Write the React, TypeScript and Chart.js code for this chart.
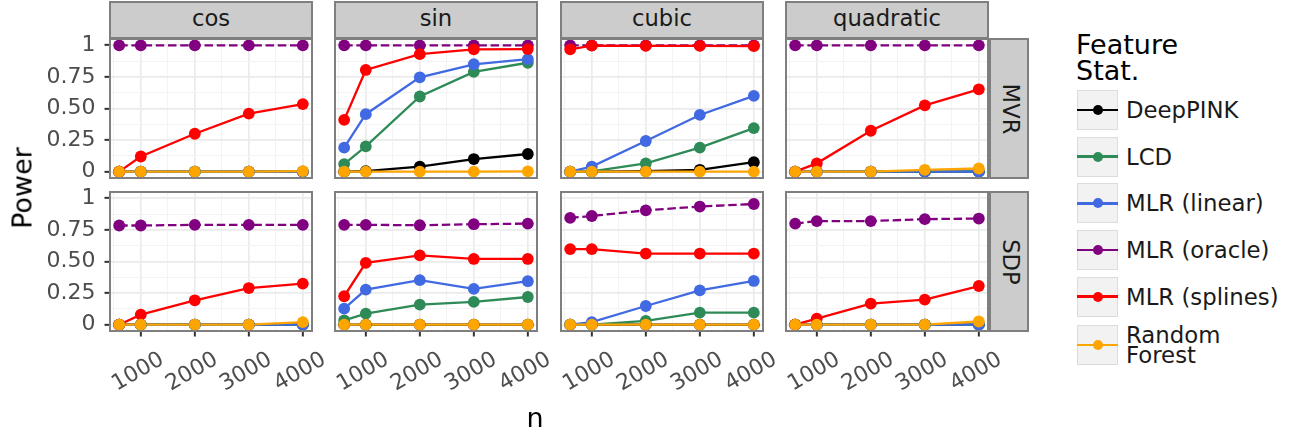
import React, { useEffect, useRef } from 'react';
import { Chart, registerables } from 'chart.js';

Chart.register(...registerables);

// ---------------- data ----------------
const nValues = [600, 1000, 2000, 3000, 4000];
const functionTypes = ['cos', 'sin', 'cubic', 'quadratic'];
const methods = ['MVR', 'SDP'];
const featureStats = ['DeepPINK', 'LCD', 'MLR (linear)', 'MLR (oracle)', 'MLR (splines)', 'Random Forest'];
const legendLines = [['DeepPINK'], ['LCD'], ['MLR (linear)'], ['MLR (oracle)'], ['MLR (splines)'], ['Random', 'Forest']];
const statColors = ['#000000', '#2E8B57', '#4169E1', '#800080', '#FF0000', '#FFA500'];
const xTickValues = [1000, 2000, 3000, 4000];
const xMinorBreaks = [500, 1500, 2500, 3500];
const yTickValues = [0, 0.25, 0.5, 0.75, 1];
const yTickLabels = ['0', '0.25', '0.50', '0.75', '1'];
const yMinorBreaks = [0.125, 0.375, 0.625, 0.875];

// each array: rows = cos, sin, cubic, quadratic ; columns = n
const deepPinkMVR = [
  [0, 0, 0, 0, 0],
  [0, 0.005, 0.04, 0.1, 0.14],
  [0, 0, 0.005, 0.015, 0.075],
  [0, 0, 0, 0, 0],
];
const lcdMVR = [
  [0, 0, 0, 0, 0],
  [0.06, 0.2, 0.595, 0.79, 0.862],
  [0, 0.003, 0.066, 0.19, 0.345],
  [0, 0, 0, 0, 0],
];
const linearMVR = [
  [0, 0, 0, 0, 0],
  [0.19, 0.455, 0.747, 0.85, 0.89],
  [0, 0.04, 0.243, 0.449, 0.6],
  [0, 0, 0, 0, 0],
];
const oracleMVR = [
  [1, 1, 1, 1, 1],
  [1, 1, 1, 1, 1],
  [1, 1, 1, 1, 1],
  [1, 1, 1, 1, 1],
];
const splinesMVR = [
  [0, 0.12, 0.3, 0.46, 0.535],
  [0.41, 0.805, 0.93, 0.968, 0.97],
  [0.968, 0.998, 0.995, 0.995, 0.993],
  [0, 0.066, 0.324, 0.525, 0.652],
];
const forestMVR = [
  [0, 0, 0, 0, 0.005],
  [0, 0, 0, 0, 0.003],
  [0, 0, 0, 0, 0],
  [0, 0, 0, 0.015, 0.025],
];

const deepPinkSDP = [
  [0, 0, 0, 0, 0],
  [0, 0, 0, 0, 0],
  [0, 0, 0, 0, 0],
  [0, 0, 0, 0, 0],
];
const lcdSDP = [
  [0, 0, 0, 0, 0],
  [0.034, 0.087, 0.159, 0.18, 0.219],
  [0, 0, 0.03, 0.095, 0.095],
  [0, 0, 0, 0, 0],
];
const linearSDP = [
  [0, 0, 0, 0, 0],
  [0.127, 0.278, 0.352, 0.283, 0.344],
  [0, 0.02, 0.148, 0.272, 0.346],
  [0, 0, 0, 0, 0],
];
const oracleSDP = [
  [0.785, 0.785, 0.79, 0.79, 0.79],
  [0.79, 0.79, 0.787, 0.795, 0.8],
  [0.845, 0.86, 0.905, 0.935, 0.955],
  [0.8, 0.82, 0.82, 0.835, 0.84],
];
const splinesSDP = [
  [0, 0.079, 0.193, 0.29, 0.325],
  [0.225, 0.489, 0.548, 0.52, 0.52],
  [0.598, 0.598, 0.563, 0.563, 0.563],
  [0, 0.048, 0.167, 0.198, 0.306],
];
const forestSDP = [
  [0, 0, 0, 0, 0.02],
  [0, 0, 0, 0, 0],
  [0, 0, 0, 0, 0],
  [0, 0, 0, 0, 0.025],
];

const seriesByMethod: Record<string, number[][][]> = {
  MVR: [deepPinkMVR, lcdMVR, linearMVR, oracleMVR, splinesMVR, forestMVR],
  SDP: [deepPinkSDP, lcdSDP, linearSDP, oracleSDP, splinesSDP, forestSDP],
};

// ---------------- layout / style ----------------
const FONT = "'DejaVu Sans', sans-serif";
const COL_LEFTS = [110, 335, 561, 786];
const ROW_TOPS = [39, 192];
const PANEL_W = 202;
const PANEL_H = 139;
const PAD = { left: 10, right: 40, top: 20, bottom: 10 };
const Y_AXIS_W = 100;
const X_AXIS_H = 80;
const X_MIN = 430;
const X_MAX = 4170;
const Y_MIN = -0.05;
const Y_MAX = 1.05;
const GRID_MAJOR = '#ebebeb';
const GRID_MINOR = '#f3f3f3';
const BORDER_COLOR = '#7f7f7f';
const STRIP_FILL = '#cccccc';
const TICK_FONT_SIZE = 22;
const STRIP_FONT_SIZE = 22.7;
const LEGEND_FONT_SIZE = 22.8;

const panelBorder = {
  id: 'panelBorder',
  afterDraw(chart: any) {
    const { ctx, chartArea: a } = chart;
    ctx.save();
    ctx.strokeStyle = BORDER_COLOR;
    ctx.lineWidth = 2;
    ctx.strokeRect(a.left, a.top, a.right - a.left, a.bottom - a.top);
    ctx.restore();
  },
};

function Panel({ row, col }: { row: number; col: number }) {
  const ref = useRef<HTMLCanvasElement | null>(null);
  const showY = col === 0;
  const showX = row === methods.length - 1;
  const yW = showY ? Y_AXIS_W : 0;
  const xH = showX ? X_AXIS_H : 0;
  const cw = PAD.left + yW + PANEL_W + PAD.right;
  const ch = PAD.top + PANEL_H + xH + PAD.bottom;
  const left = COL_LEFTS[col] - PAD.left - yW;
  const top = ROW_TOPS[row] - PAD.top;

  useEffect(() => {
    const canvas = ref.current;
    if (!canvas) return;
    const series = seriesByMethod[methods[row]];
    const datasets: any[] = [];
    featureStats.forEach((stat, s) => {
      const values = series[s][col];
      const data = nValues.map((n, i) => ({ x: n, y: values[i] }));
      datasets.push({
        label: stat + ' (line)',
        data,
        borderColor: statColors[s],
        backgroundColor: statColors[s],
        borderWidth: 2.3,
        borderDash: s === 3 ? [8.5, 3.7] : [],
        pointRadius: 0,
        fill: false,
        tension: 0,
        order: 20 - s,
      });
      datasets.push({
        label: stat,
        data,
        showLine: false,
        pointRadius: 5.9,
        pointBorderWidth: 0,
        pointBackgroundColor: statColors[s],
        borderColor: statColors[s],
        backgroundColor: statColors[s],
        order: 10 - s,
      });
    });

    const isXMajor = (v: number) => xTickValues.indexOf(v) >= 0;
    const isYMajor = (v: number) => yTickValues.indexOf(v) >= 0;

    const chart = new Chart(canvas, {
      type: 'line',
      data: { datasets },
      options: {
        responsive: false,
        animation: false,
        events: [],
        layout: { padding: PAD, autoPadding: false },
        plugins: {
          legend: { display: false },
          tooltip: { enabled: false },
          title: { display: false },
        },
        scales: {
          x: {
            type: 'linear',
            position: 'bottom',
            min: X_MIN,
            max: X_MAX,
            afterBuildTicks: (s: any) => {
              s.ticks = [...xMinorBreaks, ...xTickValues].sort((a, b) => a - b).map((v) => ({ value: v }));
            },
            afterFit: (s: any) => {
              s.height = xH;
              s.paddingLeft = 0;
              s.paddingRight = 0;
              s.paddingTop = 0;
              s.paddingBottom = 0;
            },
            ticks: {
              display: showX,
              autoSkip: false,
              minRotation: 30,
              maxRotation: 30,
              labelOffset: 21.5,
              padding: 10,
              color: '#4d4d4d',
              font: { family: FONT, size: TICK_FONT_SIZE },
              callback: (v: any) => (isXMajor(Number(v)) ? String(v) : ''),
            },
            grid: {
              color: (c: any) => (c.tick && isXMajor(c.tick.value) ? GRID_MAJOR : GRID_MINOR),
              lineWidth: (c: any) => (c.tick && isXMajor(c.tick.value) ? 1.7 : 1),
              drawTicks: showX,
              tickLength: 5.5,
              tickWidth: 2,
              tickColor: (c: any) => (c.tick && isXMajor(c.tick.value) ? '#333333' : 'rgba(0,0,0,0)'),
            },
            border: { display: false },
          },
          y: {
            type: 'linear',
            position: 'left',
            min: Y_MIN,
            max: Y_MAX,
            afterBuildTicks: (s: any) => {
              s.ticks = [...yMinorBreaks, ...yTickValues].sort((a, b) => a - b).map((v) => ({ value: v }));
            },
            afterFit: (s: any) => {
              s.width = yW;
              s.paddingLeft = 0;
              s.paddingRight = 0;
              s.paddingTop = 0;
              s.paddingBottom = 0;
            },
            ticks: {
              display: showY,
              autoSkip: false,
              padding: 9,
              color: '#4d4d4d',
              font: { family: FONT, size: TICK_FONT_SIZE },
              callback: (v: any) => {
                const k = yTickValues.indexOf(Number(v));
                return k >= 0 ? yTickLabels[k] : '';
              },
            },
            grid: {
              color: (c: any) => (c.tick && isYMajor(c.tick.value) ? GRID_MAJOR : GRID_MINOR),
              lineWidth: (c: any) => (c.tick && isYMajor(c.tick.value) ? 1.7 : 1),
              drawTicks: showY,
              tickLength: 5.5,
              tickWidth: 2,
              tickColor: (c: any) => (c.tick && isYMajor(c.tick.value) ? '#333333' : 'rgba(0,0,0,0)'),
            },
            border: { display: false },
          },
        },
      } as any,
      plugins: [panelBorder],
    });
    return () => chart.destroy();
  }, [row, col]);

  return (
    <canvas
      ref={ref}
      width={cw}
      height={ch}
      style={{ position: 'absolute', left, top, width: cw, height: ch }}
    />
  );
}

const LEGEND_KEY_TOPS = [90, 136.7, 183.3, 230, 276.7, 325];

export default function App() {
  return (
    <div
      style={{
        position: 'absolute',
        left: 0,
        top: 0,
        width: 1294,
        height: 435,
        background: '#ffffff',
        fontFamily: FONT,
        overflow: 'hidden',
      }}
    >
      {/* top strips */}
      {functionTypes.map((f, c) => (
        <div
          key={'ts' + f}
          style={{
            position: 'absolute',
            left: COL_LEFTS[c] - 1,
            top: 1,
            width: PANEL_W + 2,
            height: 38,
            boxSizing: 'border-box',
            background: STRIP_FILL,
            border: `2px solid ${BORDER_COLOR}`,
            display: 'flex',
            alignItems: 'center',
            justifyContent: 'center',
            fontSize: STRIP_FONT_SIZE,
            lineHeight: 1,
            color: '#1a1a1a',
            paddingBottom: 3,
          }}
        >
          {f}
        </div>
      ))}
      {/* right strips */}
      {methods.map((m, r) => (
        <div
          key={'rs' + m}
          style={{
            position: 'absolute',
            left: COL_LEFTS[3] + PANEL_W + 1,
            top: ROW_TOPS[r] - 1,
            width: 40,
            height: PANEL_H + 2,
            boxSizing: 'border-box',
            background: STRIP_FILL,
            border: `2px solid ${BORDER_COLOR}`,
          }}
        >
          <div
            style={{
              position: 'absolute',
              left: '55%',
              top: '50%',
              transform: 'translate(-50%, -50%) rotate(90deg)',
              fontSize: STRIP_FONT_SIZE,
              lineHeight: 1,
              color: '#1a1a1a',
              whiteSpace: 'nowrap',
            }}
          >
            {m}
          </div>
        </div>
      ))}
      {/* panels */}
      {methods.map((m, r) =>
        functionTypes.map((f, c) => <Panel key={m + f} row={r} col={c} />)
      )}
      {/* axis titles */}
      <div
        style={{
          position: 'absolute',
          left: 22,
          top: 188,
          transform: 'translate(-50%, -50%) rotate(-90deg)',
          fontSize: 27,
          lineHeight: 1,
          color: '#000',
          whiteSpace: 'nowrap',
        }}
      >
        Power
      </div>
      <div
        style={{
          position: 'absolute',
          left: 535,
          top: 404,
          transform: 'translateX(-50%)',
          fontSize: 27,
          lineHeight: 1,
          color: '#000',
        }}
      >
        n
      </div>
      {/* legend */}
      <div
        style={{
          position: 'absolute',
          left: 1076,
          top: 32,
          fontSize: 27,
          lineHeight: '25.7px',
          color: '#000',
          whiteSpace: 'nowrap',
        }}
      >
        Feature
        <br />
        Stat.
      </div>
      {featureStats.map((stat, i) => (
        <React.Fragment key={stat}>
          <div
            style={{
              position: 'absolute',
              left: 1077,
              top: LEGEND_KEY_TOPS[i],
              width: 41,
              height: 40,
              boxSizing: 'border-box',
              background: '#f2f2f2',
              border: '1px solid #dcdcdc',
            }}
          >
            <div
              style={{
                position: 'absolute',
                left: -1,
                right: -1,
                top: 17.75,
                height: 2.5,
                background: statColors[i],
              }}
            />
            <div
              style={{
                position: 'absolute',
                left: 14.5,
                top: 14,
                width: 10,
                height: 10,
                borderRadius: '50%',
                background: statColors[i],
              }}
            />
          </div>
          <div
            style={{
              position: 'absolute',
              left: 1126,
              top: LEGEND_KEY_TOPS[i],
              height: 40,
              display: 'flex',
              flexDirection: 'column',
              justifyContent: 'center',
              fontSize: LEGEND_FONT_SIZE,
              lineHeight: '20px',
              color: '#1a1a1a',
              whiteSpace: 'nowrap',
            }}
          >
            {legendLines[i].map((t) => (
              <div key={t}>{t}</div>
            ))}
          </div>
        </React.Fragment>
      ))}
    </div>
  );
}
